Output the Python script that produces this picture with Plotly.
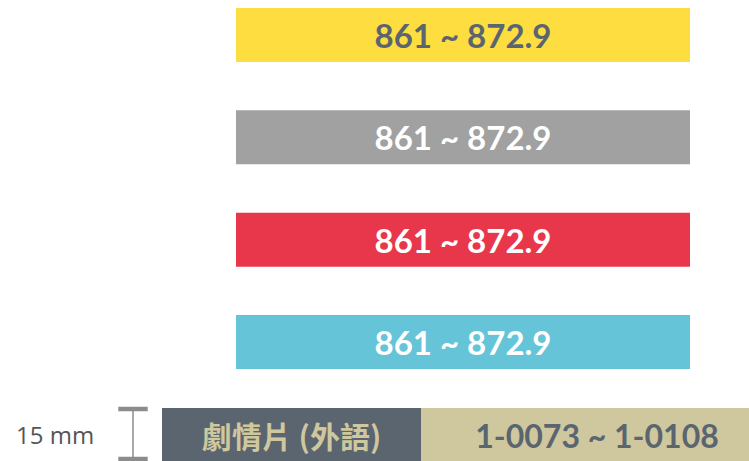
import plotly.graph_objects as go

# call number ranges shown on the four colour bands (top to bottom)
band_ranges = ["861 ~ 872.9", "861 ~ 872.9", "861 ~ 872.9", "861 ~ 872.9"]
band_colors = ["#FDDD3F", "#A0A1A0", "#E8374A", "#65C4D8"]
band_text_colors = ["#5B6570", "#FFFFFF", "#FFFFFF", "#FFFFFF"]

# bottom row: genre label + its call number range
genre_label = "劇情片 (外語)"
genre_range = "1-0073 ~ 1-0108"
label_height = "15 mm"

W, H = 749, 461
band_left, band_width, band_h = 236, 454, 54
band_top, band_step = 35, 102.33
row_y = 435
genre_left, genre_width = 162, 259
range_width = 352  # runs past the right edge of the window
marker_x = 133

fig = go.Figure()

band_y = [band_top + i * band_step for i in range(len(band_ranges))]
fig.add_trace(go.Bar(
    y=band_y, x=[band_width] * len(band_ranges), base=band_left,
    orientation="h", width=band_h,
    marker=dict(color=band_colors, line=dict(width=0)),
    text=band_ranges, textposition="inside", insidetextanchor="middle",
    textangle=0, constraintext="none",
    textfont=dict(family="Lato", size=33, color=band_text_colors, weight="bold"),
    hoverinfo="skip",
))

fig.add_trace(go.Bar(
    y=[row_y, row_y], x=[genre_width, range_width],
    base=[genre_left, genre_left + genre_width],
    orientation="h", width=band_h,
    marker=dict(color=["#5B6570", "#CFC79D"], line=dict(width=0)),
    text=[genre_label, genre_range], textposition="inside", insidetextanchor="middle",
    textangle=0, constraintext="none",
    textfont=dict(family=["Noto Sans CJK TC", "Lato"], size=[30, 32],
                  color=["#CFC79D", "#5B6570"], weight="bold"),
    hoverinfo="skip",
))

# dimension marker for the row height: thin stem + thick caps
fig.add_trace(go.Scatter(
    x=[marker_x], y=[row_y - 1], mode="markers", marker=dict(size=0.1, color="rgba(0,0,0,0)"),
    error_y=dict(type="constant", value=band_h / 2 - 1, width=0, thickness=1.6, color="#949494"),
    hoverinfo="skip",
))
fig.add_trace(go.Scatter(
    x=[marker_x, marker_x], y=[row_y - band_h / 2 + 1, row_y + band_h / 2 - 3],
    mode="markers",
    marker=dict(symbol="line-ew", size=21, line=dict(width=4.5, color="#8C8C8C")),
    hoverinfo="skip",
))

fig.add_annotation(x=55, y=row_y - 1, text=label_height, showarrow=False,
                   font=dict(family="Open Sans", size=24, color="#555555"))

fig.update_layout(
    width=W, height=H, margin=dict(l=0, r=0, t=0, b=0),
    paper_bgcolor="white", plot_bgcolor="white",
    showlegend=False, barmode="overlay",
    xaxis=dict(range=[0, W], visible=False, fixedrange=True),
    yaxis=dict(range=[H, 0], visible=False, fixedrange=True),
)

# drop the default page margin so the figure sits flush in the window
fig.write_html("out.html", config={"displayModeBar": False},
               post_script="document.body.style.margin='0';document.body.style.overflow='hidden';")
